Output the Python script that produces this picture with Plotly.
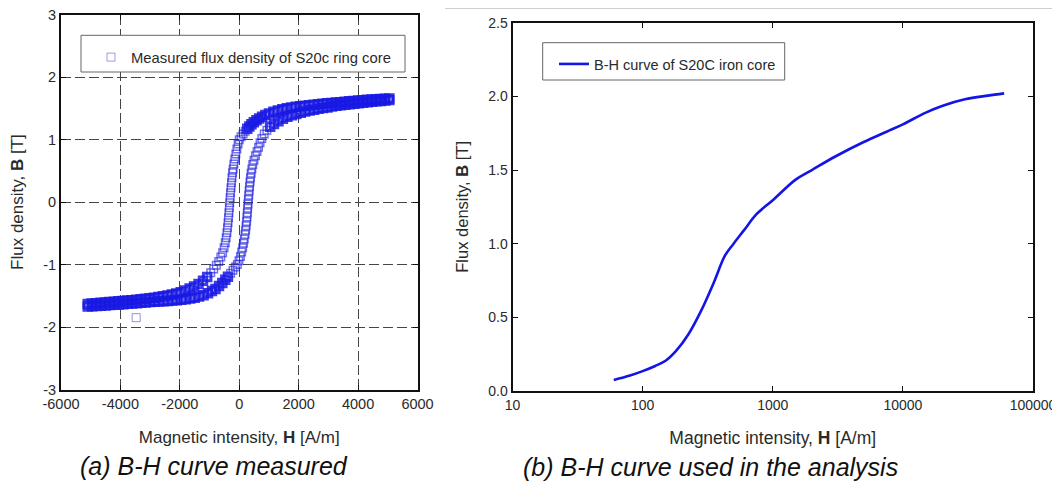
import plotly.graph_objects as go

# ---------------- data: (a) measured hysteresis loop ----------------
H_desc = [5050, 4900, 4750, 4600, 4450, 4300, 4150, 4000, 3850, 3700, 3550, 3400, 3250, 3100,
          2950, 2800, 2650, 2500, 2350, 2200, 2050, 1900, 1750, 1600, 1450, 1300, 1150, 1000,
          880, 770, 670, 580, 490, 410, 340, 270, 200, 130, 60, 0, -40, -80, -115, -150, -180,
          -205, -225, -245, -262, -278, -293, -307, -320, -333, -347, -362, -378, -395, -415,
          -440, -470, -510, -560, -620, -690, -770, -860, -960, -1080, -1220, -1370, -1520,
          -1670, -1820, -1970, -2120, -2270, -2420, -2570, -2720, -2870, -3020, -3170, -3320,
          -3470, -3620, -3770, -3920, -4070, -4220, -4370, -4520, -4670, -4820, -4970, -5100]
B_desc = [1.660, 1.656, 1.652, 1.648, 1.644, 1.639, 1.632, 1.625, 1.619, 1.613, 1.607, 1.600,
          1.593, 1.586, 1.582, 1.575, 1.567, 1.559, 1.551, 1.543, 1.536, 1.527, 1.516, 1.503,
          1.487, 1.468, 1.446, 1.420, 1.395, 1.368, 1.340, 1.311, 1.278, 1.245, 1.212, 1.175,
          1.135, 1.090, 1.045, 1.000, 0.93, 0.85, 0.77, 0.69, 0.61, 0.53, 0.47, 0.39, 0.31,
          0.23, 0.15, 0.07, -0.01, -0.09, -0.17, -0.25, -0.33, -0.41, -0.49, -0.57, -0.65,
          -0.73, -0.81, -0.88, -0.95, -1.01, -1.07, -1.13, -1.20, -1.26, -1.31, -1.35, -1.385,
          -1.415, -1.442, -1.462, -1.479, -1.494, -1.507, -1.519, -1.530, -1.540, -1.549,
          -1.557, -1.564, -1.571, -1.577, -1.583, -1.589, -1.595, -1.601, -1.607, -1.613,
          -1.619, -1.625, -1.630]

H_asc = [-5100, -4950, -4800, -4650, -4500, -4350, -4200, -4050, -3900, -3750, -3600, -3450,
         -3300, -3150, -3000, -2850, -2700, -2550, -2400, -2250, -2100, -1950, -1800, -1650,
         -1500, -1350, -1200, -1050, -920, -800, -680, -570, -470, -380, -290, -210, -130, -65,
         -10, 40, 80, 115, 145, 170, 195, 215, 232, 247, 260, 272, 283, 295, 307, 320, 333,
         347, 362, 380, 400, 425, 455, 495, 545, 600, 650, 700, 760, 840, 930, 1040, 1170,
         1320, 1470, 1620, 1770, 1920, 2070, 2220, 2370, 2520, 2670, 2820, 2970, 3120, 3270,
         3420, 3570, 3720, 3870, 4020, 4170, 4320, 4470, 4620, 4770, 4920, 5050]
B_asc = [-1.670, -1.666, -1.662, -1.658, -1.654, -1.649, -1.644, -1.639, -1.634, -1.629,
         -1.624, -1.618, -1.612, -1.606, -1.600, -1.596, -1.592, -1.587, -1.582, -1.576,
         -1.570, -1.563, -1.554, -1.543, -1.530, -1.513, -1.490, -1.458, -1.425, -1.390,
         -1.345, -1.295, -1.245, -1.195, -1.140, -1.090, -1.040, -1.000, -0.94, -0.87, -0.80,
         -0.73, -0.66, -0.59, -0.52, -0.45, -0.38, -0.31, -0.24, -0.17, -0.10, -0.03, 0.04,
         0.11, 0.18, 0.25, 0.32, 0.39, 0.46, 0.53, 0.60, 0.67, 0.74, 0.81, 0.88, 0.95, 1.02,
         1.09, 1.15, 1.205, 1.250, 1.295, 1.335, 1.365, 1.390, 1.412, 1.432, 1.450, 1.466,
         1.480, 1.493, 1.505, 1.516, 1.530, 1.541, 1.551, 1.560, 1.568, 1.576, 1.584, 1.592,
         1.599, 1.606, 1.613, 1.620, 1.627, 1.633]

H_outlier = [-3470]
B_outlier = [-1.85]

xa_ticks = [-6000, -4000, -2000, 0, 2000, 4000, 6000]
xa_labels = ["-6000", "-4000", "-2000", "0", "2000", "4000", "6000"]
ya_ticks = [-3, -2, -1, 0, 1, 2, 3]
ya_labels = ["-3", "-2", "-1", "0", "1", "2", "3"]

# ---------------- data: (b) B-H curve used in analysis ----------------
H_curve = [60, 80, 100, 125, 150, 180, 225, 280, 350, 430, 500, 600, 750, 1000, 1500, 2000,
           3000, 5000, 7500, 10000, 15000, 20000, 30000, 45000, 60000]
B_curve = [0.075, 0.105, 0.135, 0.17, 0.205, 0.27, 0.385, 0.54, 0.73, 0.92, 1.00, 1.09, 1.20,
           1.295, 1.435, 1.50, 1.59, 1.69, 1.76, 1.81, 1.89, 1.935, 1.98, 2.005, 2.02]

xb_ticks = [10, 100, 1000, 10000, 100000]
xb_labels = ["10", "100", "1000", "10000", "100000"]
yb_ticks = [0.0, 0.5, 1.0, 1.5, 2.0, 2.5]

# the page body adds an 8 px offset, so the figure is drawn 8 px smaller
OFF = 8
W, Hh = 1060 - OFF, 485 - OFF
FONT = "Liberation Sans, Arial, sans-serif"

fig = go.Figure()

H_all = H_desc + H_asc
B_all = B_desc + B_asc
# heavier outline where the measured points crowd together in saturation
line_w = [3.0 if abs(b) > 1.15 else 1.5 for b in B_all]
line_c = ["rgba(25,25,228,0.85)" if abs(b) > 1.15 else "rgba(30,30,225,0.62)" for b in B_all]

fig.add_trace(go.Scatter(
    x=H_all, y=B_all, mode="markers", xaxis="x", yaxis="y",
    marker=dict(symbol="square-open", size=7.5, color=line_c, line=dict(width=line_w, color=line_c)),
    showlegend=False, hoverinfo="x+y"))
fig.add_trace(go.Scatter(
    x=H_outlier, y=B_outlier, mode="markers", xaxis="x", yaxis="y",
    marker=dict(symbol="square-open", size=8, color="rgba(60,60,215,0.55)",
                line=dict(width=1, color="rgba(60,60,215,0.55)")),
    showlegend=False))
# legend entry for the measured series
fig.add_trace(go.Scatter(
    x=[None], y=[None], mode="markers", xaxis="x", yaxis="y",
    name="Measured flux density of S20c ring core",
    marker=dict(symbol="square-open", size=8, color="rgba(60,60,215,0.5)",
                line=dict(width=1, color="rgba(60,60,215,0.5)")),
    legend="legend", showlegend=True))
fig.add_trace(go.Scatter(
    x=H_curve, y=B_curve, mode="lines", xaxis="x2", yaxis="y2",
    name="B-H curve of S20C iron core", line=dict(color="#1414e6", width=2.6, shape="spline"),
    legend="legend2", showlegend=True))


def px(v):
    return (v - OFF) / W


def py(v):
    return (Hh - (v - OFF)) / Hh


tickfont_a = dict(family=FONT, size=14.5, color="#2a2a2a")
tickfont_b = dict(family=FONT, size=14, color="#2a2a2a")
common = dict(zeroline=False, showline=True, linecolor="#111", linewidth=2, mirror="ticks",
              ticks="inside", ticklen=5, tickcolor="#111", automargin=False,
              ticklabeloverflow="allow")
GRID = dict(showgrid=True, gridcolor="#454545", griddash="10px,4px", gridwidth=1)

fig.update_layout(
    width=W, height=Hh, margin=dict(l=0, r=0, t=0, b=0, autoexpand=False),
    paper_bgcolor="white", plot_bgcolor="white",
    xaxis=dict(domain=[px(61), px(417.5)], range=[-6000, 6000], tickvals=xa_ticks,
               ticktext=xa_labels, tickfont=tickfont_a, **GRID,
               title=dict(text="Magnetic intensity, <b>H</b> [A/m]",
                          font=dict(family=FONT, size=17, color="#2a2a2a"), standoff=20),
               anchor="y", **common),
    yaxis=dict(domain=[py(389.5), py(14.7)], range=[-3, 3], tickvals=ya_ticks,
               ticktext=ya_labels, tickfont=tickfont_a, **GRID,
               title=dict(text="Flux density, <b>B</b> [T]",
                          font=dict(family=FONT, size=17, color="#2a2a2a"), standoff=19),
               anchor="x", **common),
    xaxis2=dict(domain=[px(512.5), px(1033)], type="log", range=[1, 5], tickvals=xb_ticks,
                ticktext=xb_labels, showgrid=False, tickfont=tickfont_b,
                title=dict(text="Magnetic intensity, <b>H</b> [A/m]",
                           font=dict(family=FONT, size=17.5, color="#2a2a2a"), standoff=20),
                anchor="y2", **common),
    yaxis2=dict(domain=[py(391), py(22.7)], range=[0, 2.5], tickvals=yb_ticks, tickformat=".1f",
                showgrid=False, tickfont=tickfont_b,
                title=dict(text="Flux density, <b>B</b> [T]",
                           font=dict(family=FONT, size=16.5, color="#2a2a2a"), standoff=15),
                anchor="x2", **common),
    legend=dict(x=px(91), y=py(41), xanchor="left", yanchor="top", bgcolor="rgba(0,0,0,0)",
                borderwidth=0, font=dict(family=FONT, size=14.8, color="#2a2a2a"), itemwidth=30),
    legend2=dict(x=px(554), y=py(48), xanchor="left", yanchor="top", bgcolor="rgba(0,0,0,0)",
                 borderwidth=0, font=dict(family=FONT, size=14.5, color="#2a2a2a"), itemwidth=30),
    showlegend=True,
)

# legend frames
fig.add_shape(type="rect", xref="paper", yref="paper", x0=px(81), x1=px(405), y0=py(72), y1=py(35.3),
              line=dict(color="#666", width=1), fillcolor="white", layer="above")
fig.add_shape(type="rect", xref="paper", yref="paper", x0=px(542.7), x1=px(784.7), y0=py(80), y1=py(42.7),
              line=dict(color="#666", width=1), fillcolor="rgba(0,0,0,0)", layer="above")
# thin frame line at top of right panel
fig.add_shape(type="line", xref="paper", yref="paper", x0=px(445), x1=1, y0=py(8.5), y1=py(8.5),
              line=dict(color="#cfcfcf", width=1))

fig.add_annotation(text="<i>(a) B-H curve measured</i>", xref="paper", yref="paper",
                   x=px(214), y=py(466), showarrow=False, xanchor="center", yanchor="middle",
                   font=dict(family=FONT, size=25, color="#111"))
fig.add_annotation(text="<i>(b) B-H curve used in the analysis</i>", xref="paper", yref="paper",
                   x=px(710), y=py(467), showarrow=False, xanchor="center", yanchor="middle",
                   font=dict(family=FONT, size=25, color="#111"))

fig.write_html("out.html")
